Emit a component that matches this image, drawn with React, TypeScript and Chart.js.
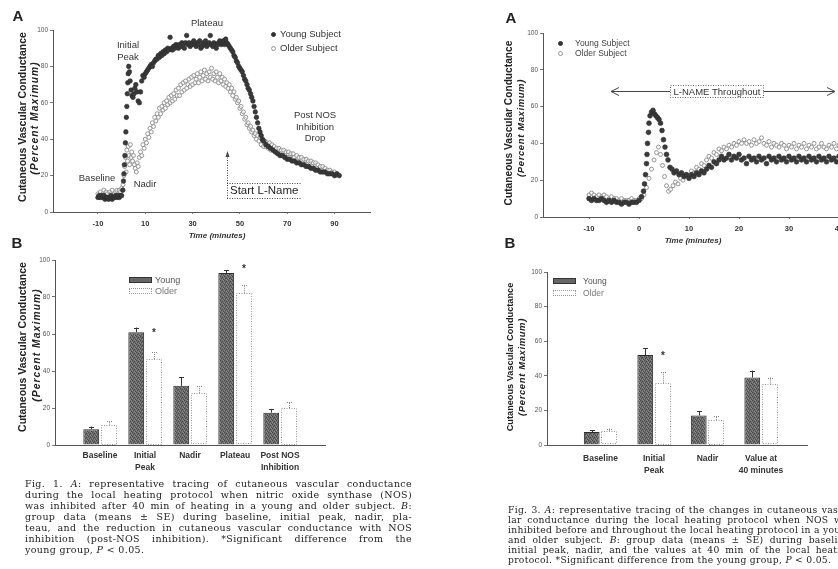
import React, { useEffect, useRef } from 'react';
import { Chart, registerables } from 'chart.js';

Chart.register(...registerables);

const SANS = '"Liberation Sans", Arial, sans-serif';
const SERIF = '"DejaVu Serif", serif';

// ---------------- DATA ----------------
const conductanceTicks = [0, 20, 40, 60, 80, 100];
const fig1ATicksX = [-10, 10, 30, 50, 70, 90];
const fig3ATicksX = [-10, 0, 10, 20, 30, 40];

// Fig 1A: [time (min), CVC (% max)]
const fig1AYoung: number[][] = [
  [-10, 8], [-9.5, 9], [-9, 8], [-8.5, 9], [-8, 8], [-7.5, 9], [-7, 7], [-6.5, 8], [-6, 8], [-5.5, 7], [-5, 8], [-4.5, 9], [-4, 7], [-3.5, 8], [-3, 8], [-2.5, 9], [-2, 8], [-1.5, 9], [-1, 8], [-0.5, 9], [0, 9],
  [0.5, 12], [0.8, 17], [1.0, 21], [1.2, 26], [1.4, 31], [1.6, 38], [1.8, 44], [2.0, 52], [2.2, 58], [2.4, 65], [2.6, 71], [2.8, 76], [3.0, 80], [3.3, 77], [3.6, 72], [4.0, 67], [4.4, 64], [4.8, 63], [5.2, 65], [5.6, 68], [6.0, 70], [6.5, 66], [7.0, 61], [7.5, 60], [8.0, 66], [8.5, 72], [9, 75], [9.5, 74],
  [10, 76], [10.5, 77], [11, 78], [11.5, 79], [12, 80], [12.5, 81], [13, 80], [13.5, 82], [14, 83], [14.5, 84], [15, 84], [15.5, 86], [16, 85], [16.5, 87], [17, 86], [17.5, 88], [18, 87], [18.5, 89], [19, 88], [19.5, 90], [20, 89], [20.5, 96], [21, 90], [21.5, 89], [22, 91], [22.5, 90], [23, 92], [23.5, 91], [24, 90], [24.5, 92], [25, 91], [25.5, 93], [26, 92], [26.5, 90], [27, 93], [27.5, 97], [28, 92], [28.5, 93], [29, 91], [29.5, 92], [30, 93], [30.5, 94], [31, 92], [31.5, 91], [32, 93], [32.5, 92], [33, 94], [33.5, 90], [34, 91], [34.5, 93], [35, 92], [35.5, 94], [36, 91], [36.5, 92], [37, 93], [37.5, 97], [38, 92], [38.5, 91], [39, 93], [39.5, 92], [40, 90], [40.5, 92], [41, 93], [41.5, 94], [42, 92], [42.5, 93], [43, 94], [43.5, 92], [44, 95], [44.5, 93], [45, 92],
  [45.5, 91], [46, 90], [46.5, 89], [47, 88], [47.5, 86], [48, 85], [48.5, 83], [49, 82], [49.5, 80], [50, 79], [50.5, 78], [51, 77], [51.5, 75], [52, 73], [52.5, 72], [53, 70], [53.5, 68], [54, 67], [54.5, 65], [55, 63], [55.5, 61], [56, 58], [56.5, 55], [57, 52], [57.5, 49], [58, 46], [58.5, 44], [59, 42], [59.5, 40], [60, 39], [61, 37], [62, 36], [63, 35], [64, 34], [65, 33], [66, 32], [67, 31], [68, 31], [69, 30], [70, 29], [71, 29], [72, 28], [73, 28], [74, 27], [75, 27], [76, 26], [77, 26], [78, 25], [79, 25], [80, 24], [81, 24], [82, 23], [83, 23], [84, 22], [85, 22], [86, 22], [87, 21], [88, 21], [89, 21], [90, 20], [91, 21], [92, 20],
];

const fig1AOlder: number[][] = [
  [-10, 10], [-9.5, 8], [-9, 11], [-8.5, 9], [-8, 10], [-7.5, 12], [-7, 9], [-6.5, 11], [-6, 10], [-5.5, 8], [-5, 11], [-4.5, 10], [-4, 12], [-3.5, 9], [-3, 10], [-2.5, 11], [-2, 12], [-1.5, 10], [-1, 12], [-0.5, 11], [0, 13],
  [0.6, 15], [1.0, 20], [1.3, 25], [1.6, 30], [1.9, 22], [2.2, 34], [2.5, 28], [2.8, 36], [3.1, 31], [3.4, 26], [3.7, 37], [4.0, 30], [4.3, 33], [4.6, 28], [5.0, 31], [5.4, 26], [5.8, 24], [6.2, 22], [6.6, 27], [7.0, 25], [7.5, 30], [8.0, 33], [8.5, 31], [9.0, 37], [9.5, 35],
  [10, 40], [10.5, 38], [11, 43], [11.5, 41], [12, 46], [12.5, 44], [13, 49], [13.5, 47], [14, 52], [14.5, 50], [15, 54], [15.5, 52], [16, 57], [16.5, 54], [17, 58], [17.5, 56], [18, 60], [18.5, 57], [19, 61], [19.5, 59], [20, 63], [20.5, 60], [21, 64], [21.5, 61], [22, 65], [22.5, 62], [23, 67], [23.5, 64], [24, 68], [24.5, 64], [25, 70], [25.5, 66], [26, 71], [26.5, 67], [27, 72], [27.5, 68], [28, 70], [28.5, 73], [29, 69], [29.5, 74], [30, 70], [30.5, 75], [31, 71], [31.5, 73], [32, 76], [32.5, 71], [33, 74], [33.5, 77], [34, 72], [34.5, 75], [35, 78], [35.5, 73], [36, 76], [36.5, 72], [37, 77], [37.5, 74], [38, 79], [38.5, 73], [39, 76], [39.5, 72], [40, 77], [40.5, 74], [41, 71], [41.5, 76], [42, 72], [42.5, 74], [43, 70], [43.5, 73], [44, 69], [44.5, 71], [45, 68],
  [45.5, 70], [46, 66], [46.5, 68], [47, 64], [47.5, 66], [48, 62], [48.5, 63], [49, 60], [49.5, 61], [50, 57], [50.5, 58], [51, 54], [51.5, 55], [52, 51], [52.5, 52], [53, 48], [53.5, 49], [54, 46], [54.5, 47], [55, 44], [55.5, 45], [56, 42], [56.5, 43], [57, 40], [57.5, 42], [58, 39], [58.5, 41], [59, 37], [59.5, 40], [60, 36], [60.5, 39], [61, 36], [61.5, 38], [62, 35], [62.5, 38], [63, 34], [63.5, 37], [64, 34], [64.5, 36], [65, 33], [65.5, 35], [66, 32], [66.5, 35], [67, 32], [67.5, 34], [68, 31], [68.5, 34], [69, 31], [69.5, 33], [70, 30], [70.5, 33], [71, 30], [71.5, 32], [72, 29], [72.5, 32], [73, 30], [73.5, 28], [74, 31], [74.5, 28], [75, 30], [75.5, 27], [76, 30], [76.5, 27], [77, 29], [77.5, 26], [78, 29], [78.5, 26], [79, 28], [79.5, 25], [80, 28], [80.5, 25], [81, 27], [81.5, 24], [82, 27], [82.5, 24], [83, 26], [83.5, 23], [84, 25], [84.5, 23], [85, 25], [85.5, 22], [86, 24], [86.5, 22], [87, 23], [87.5, 21], [88, 23], [88.5, 21], [89, 22], [89.5, 21], [90, 22], [90.5, 20], [91, 21],
];

// Fig 3A: [time (min), CVC (% max)]
const fig3AYoung: number[][] = [
  [-10, 10], [-9.5, 9], [-9, 10], [-8.5, 9], [-8, 9], [-7.5, 10], [-7, 9], [-6.5, 8], [-6, 9], [-5.5, 8], [-5, 9], [-4.5, 8], [-4, 8], [-3.5, 7], [-3, 8], [-2.5, 8], [-2, 7], [-1.5, 8], [-1, 8], [-0.5, 8], [0, 9],
  [0.5, 11], [0.9, 14], [1.1, 18], [1.3, 23], [1.5, 29], [1.6, 34], [1.7, 40], [1.9, 46], [2.0, 51], [2.2, 55], [2.5, 57], [2.8, 58], [3.1, 56], [3.4, 55], [3.7, 54], [4.0, 53], [4.3, 51], [4.6, 47], [4.9, 42], [5.2, 38], [5.5, 34], [5.8, 31], [6.2, 27], [6.6, 26], [7.0, 24], [7.5, 25], [8.0, 23], [8.5, 24], [9.0, 22], [9.5, 23],
  [10, 21], [10.5, 23], [11, 22], [11.5, 24], [12, 23], [12.5, 25], [13, 24], [13.5, 26], [14, 28], [14.5, 27], [15, 30], [15.5, 29], [16, 31], [16.5, 33], [17, 31], [17.5, 32], [18, 34], [18.5, 31], [19, 33], [19.5, 32], [20, 34], [20.5, 31], [21, 32], [21.5, 29], [22, 33], [22.5, 31], [23, 32], [23.5, 30], [24, 33], [24.5, 31], [25, 32], [25.5, 29], [26, 33], [26.5, 31], [27, 32], [27.5, 30], [28, 33], [28.5, 31], [29, 32], [29.5, 30], [30, 33], [30.5, 31], [31, 32], [31.5, 30], [32, 33], [32.5, 31], [33, 32], [33.5, 30], [34, 33], [34.5, 31], [35, 32], [35.5, 30], [36, 33], [36.5, 31], [37, 32], [37.5, 30], [38, 33], [38.5, 31], [39, 32], [39.5, 30], [40, 33], [40.5, 31], [41, 32],
];

const fig3AOlder: number[][] = [
  [-10, 12], [-9.5, 13], [-9, 12], [-8.5, 11], [-8, 12], [-7.5, 11], [-7, 12], [-6.5, 11], [-6, 10], [-5.5, 11], [-5, 10], [-4.5, 10], [-4, 9], [-3.5, 10], [-3, 9], [-2.5, 9], [-2, 9], [-1.5, 10], [-1, 9], [-0.5, 9], [0, 10],
  [0.5, 10], [1.0, 12], [1.5, 16], [2.0, 21], [2.5, 26], [3.0, 31], [3.5, 35], [3.9, 38], [4.3, 34], [4.7, 28], [5.1, 22], [5.5, 17], [5.9, 14], [6.3, 15], [6.8, 17], [7.3, 19], [7.8, 18], [8.3, 21], [8.8, 20], [9.3, 23], [9.8, 22],
  [10.5, 25], [11, 24], [11.5, 27], [12, 26], [12.5, 29], [13, 28], [13.5, 31], [14, 33], [14.5, 32], [15, 35], [15.5, 34], [16, 37], [16.5, 36], [17, 38], [17.5, 37], [18, 39], [18.5, 38], [19, 40], [19.5, 39], [20, 41], [20.5, 40], [21, 42], [21.5, 40], [22, 41], [22.5, 39], [23, 42], [23.5, 40], [24, 41], [24.5, 43], [25, 40], [25.5, 39], [26, 41], [26.5, 38], [27, 40], [27.5, 39], [28, 38], [28.5, 40], [29, 39], [29.5, 37], [30, 39], [30.5, 38], [31, 40], [31.5, 37], [32, 39], [32.5, 38], [33, 40], [33.5, 37], [34, 39], [34.5, 38], [35, 40], [35.5, 37], [36, 38], [36.5, 40], [37, 38], [37.5, 37], [38, 39], [38.5, 38], [39, 40], [39.5, 37], [40, 39], [40.5, 38], [41, 39],
];

// Fig 1B: group means and SE
const fig1BCategories: (string | string[])[] = ['Baseline', ['Initial', 'Peak'], 'Nadir', 'Plateau', ['Post NOS', 'Inhibition']];
const fig1BYoung = [8.5, 61, 32, 93, 17.5];
const fig1BYoungSE = [1.5, 2.5, 4.5, 1.5, 2];
const fig1BOlder = [11, 46.5, 28, 82, 20];
const fig1BOlderSE = [2, 4, 4, 4.5, 3];

// Fig 3B: group means and SE
const fig3BCategories: (string | string[])[] = ['Baseline', ['Initial', 'Peak'], 'Nadir', ['Value at', '40 minutes']];
const fig3BYoung = [7.5, 52, 17, 39];
const fig3BYoungSE = [1, 4, 2.5, 4];
const fig3BOlder = [8, 36, 14.5, 35];
const fig3BOlderSE = [1.5, 6, 2, 4];

// ---------------- CHART HELPERS ----------------
function yAxis(width: number) {
  return {
    type: 'linear',
    min: 0,
    max: 100,
    afterBuildTicks: (s: any) => { s.ticks = conductanceTicks.map((v) => ({ value: v })); },
    afterFit: (s: any) => { s.width = width; },
    grid: { drawOnChartArea: false, drawTicks: true, tickLength: 3, color: '#777' },
    border: { display: true, color: '#555', dash: [1, 1.5] },
    ticks: { font: { family: SANS, size: 6.5 }, color: '#555', padding: 2 },
  };
}

function scatterConfig(young: number[][], older: number[][], xMin: number, xMax: number, xTicks: number[], padding: any, yR: number, oR: number) {
  return {
    type: 'scatter',
    data: {
      datasets: [
        { label: 'Young Subject', data: young.map(([x, y]) => ({ x, y })), pointRadius: yR, pointBackgroundColor: '#3a3a3a', pointBorderColor: '#2a2a2a', pointBorderWidth: 0.6, order: 1 },
        { label: 'Older Subject', data: older.map(([x, y]) => ({ x, y })), pointRadius: oR, pointBackgroundColor: 'rgba(255,255,255,0.6)', pointBorderColor: '#949494', pointBorderWidth: 1, order: 2 },
      ],
    },
    options: {
      responsive: false,
      animation: false,
      events: [],
      layout: { padding },
      plugins: { legend: { display: false }, tooltip: { enabled: false } },
      scales: {
        x: {
          type: 'linear', min: xMin, max: xMax,
          afterBuildTicks: (s: any) => { s.ticks = xTicks.map((v) => ({ value: v })); },
          afterFit: (s: any) => { s.height = 25; },
          grid: { drawOnChartArea: false, drawTicks: true, tickLength: 2, color: '#888' },
          border: { display: true, color: '#555', dash: [1, 1.5] },
          ticks: { font: { family: SANS, size: 7.5, weight: 'bold' }, color: '#333', padding: 5, maxRotation: 0, autoSkip: false },
        },
        y: yAxis(30),
      },
    },
  };
}

const barDecor = {
  id: 'barDecor',
  afterDatasetsDraw(chart: any) {
    const ctx = chart.ctx;
    const ys = chart.scales.y;
    chart.data.datasets.forEach((ds: any, di: number) => {
      const meta = chart.getDatasetMeta(di);
      meta.data.forEach((el: any, i: number) => {
        const { x, y, base, width } = el.getProps(['x', 'y', 'base', 'width'], true);
        ctx.save();
        if (ds.dottedOutline) {
          ctx.strokeStyle = '#9a9a9a';
          ctx.lineWidth = 1;
          ctx.setLineDash([1, 1.5]);
          ctx.strokeRect(Math.round(x - width / 2) + 0.5, Math.round(y) + 0.5, Math.round(width) - 1, Math.round(base - y) - 1);
        }
        const yTop = ys.getPixelForValue(ds.data[i].y + ds.se[i]);
        ctx.setLineDash(ds.dottedOutline ? [1, 1] : []);
        ctx.strokeStyle = ds.dottedOutline ? '#888' : '#333';
        ctx.lineWidth = 1;
        const cx = Math.round(x) + 0.5;
        ctx.beginPath();
        ctx.moveTo(cx, y);
        ctx.lineTo(cx, yTop);
        ctx.moveTo(cx - 2.5, Math.round(yTop) + 0.5);
        ctx.lineTo(cx + 2.5, Math.round(yTop) + 0.5);
        ctx.stroke();
        ctx.restore();
      });
    });
  },
};

function barConfig(cats: (string | string[])[], young: number[], youngSE: number[], older: number[], olderSE: number[], xMax: number, catPct: number, padding: any, fill: any, tickPad: number) {
  return {
    type: 'bar',
    data: {
      datasets: [
        { label: 'Young', data: young.map((v, i) => ({ x: i + 1, y: v })), backgroundColor: fill, borderColor: '#2e2e2e', borderWidth: 1, categoryPercentage: catPct, barPercentage: 0.9, se: youngSE },
        { label: 'Older', data: older.map((v, i) => ({ x: i + 1, y: v })), backgroundColor: '#ffffff', borderWidth: 0, categoryPercentage: catPct, barPercentage: 0.9, se: olderSE, dottedOutline: true },
      ],
    },
    options: {
      responsive: false,
      animation: false,
      events: [],
      layout: { padding },
      plugins: { legend: { display: false }, tooltip: { enabled: false } },
      scales: {
        x: {
          type: 'linear', min: 0, max: xMax, offset: false,
          afterBuildTicks: (s: any) => { s.ticks = cats.map((_, i) => ({ value: i + 1 })); },
          afterFit: (s: any) => { s.height = 40; },
          grid: { display: false },
          border: { display: true, color: '#555', dash: [1, 1.5] },
          ticks: { callback: (v: number) => cats[Math.round(v) - 1], font: { family: SANS, size: 8.5, weight: 'bold', lineHeight: 1.35 }, color: '#333', padding: tickPad, maxRotation: 0, autoSkip: false },
        },
        y: yAxis(30),
      },
    },
    plugins: [barDecor],
  };
}

function makeStipple(ctx: CanvasRenderingContext2D) {
  const c = document.createElement('canvas');
  c.width = 4; c.height = 4;
  const g = c.getContext('2d')!;
  g.fillStyle = '#6c6c6c'; g.fillRect(0, 0, 4, 4);
  g.fillStyle = '#474747';
  g.fillRect(0, 0, 1, 1); g.fillRect(2, 1, 1, 1); g.fillRect(1, 2, 1, 1); g.fillRect(3, 3, 1, 1);
  g.fillStyle = '#8c8c8c';
  g.fillRect(2, 3, 1, 1); g.fillRect(0, 2, 1, 1); g.fillRect(3, 0, 1, 1);
  return ctx.createPattern(c, 'repeat');
}

// ---------------- OVERLAY TEXT ----------------
function Txt(p: { x: number; y: number; children: any; size?: number; bold?: boolean; italic?: boolean; color?: string; left?: boolean; rot?: number; ls?: number; family?: string }) {
  return (
    <div
      style={{
        position: 'absolute', left: p.x, top: p.y,
        transform: `translate(${p.left ? '0' : '-50%'}, -50%)${p.rot ? ` rotate(${p.rot}deg)` : ''}`,
        fontFamily: p.family ?? SANS, fontSize: p.size ?? 9, fontWeight: p.bold ? 700 : 400,
        fontStyle: p.italic ? 'italic' : 'normal', color: p.color ?? '#333', whiteSpace: 'nowrap',
        lineHeight: 1, letterSpacing: p.ls ?? 0,
      }}
    >
      {p.children}
    </div>
  );
}

const leftCaption: any[] = [
  <>Fig. 1. <i>A</i>: representative tracing of cutaneous vascular conductance</>,
  <>during the local heating protocol when nitric oxide synthase (NOS)</>,
  <>was inhibited after 40 min of heating in a young and older subject. <i>B</i>:</>,
  <>group data (means ± SE) during baseline, initial peak, nadir, pla-</>,
  <>teau, and the reduction in cutaneous vascular conductance with NOS</>,
  <>inhibition (post-NOS inhibition). *Significant difference from the</>,
  <>young group, <i>P</i> &lt; 0.05.</>,
];

const rightCaption: any[] = [
  <>Fig. 3. <i>A</i>: representative tracing of the changes in cutaneous vascu-</>,
  <>lar conductance during the local heating protocol when NOS was</>,
  <>inhibited before and throughout the local heating protocol in a young</>,
  <>and older subject. <i>B</i>: group data (means ± SE) during baseline,</>,
  <>initial peak, nadir, and the values at 40 min of the local heating</>,
  <>protocol. *Significant difference from the young group, <i>P</i> &lt; 0.05.</>,
];

function Caption({ x, y, width, size, lh, ls, lines }: { x: number; y: number; width: number; size: number; lh: number; ls: number; lines: any[] }) {
  return (
    <div style={{ position: 'absolute', left: x, top: y, width, fontFamily: SERIF, fontSize: size, color: '#222', letterSpacing: ls }}>
      {lines.map((l, i) => (
        <div key={i} style={{ height: lh, lineHeight: `${lh}px`, whiteSpace: 'nowrap', textAlign: i === lines.length - 1 ? 'left' : 'justify', textAlignLast: i === lines.length - 1 ? 'left' : 'justify' } as any}>
          {l}
        </div>
      ))}
    </div>
  );
}

export default function App() {
  const c1 = useRef<HTMLCanvasElement>(null);
  const c2 = useRef<HTMLCanvasElement>(null);
  const c3 = useRef<HTMLCanvasElement>(null);
  const c4 = useRef<HTMLCanvasElement>(null);

  useEffect(() => {
    const p2 = makeStipple(c2.current!.getContext('2d')!);
    const p4 = makeStipple(c4.current!.getContext('2d')!);
    const charts = [
      new Chart(c1.current!, scatterConfig(fig1AYoung, fig1AOlder, -29, 105, fig1ATicksX, { left: 23, top: 30, right: 50, bottom: 13 }, 2.3, 2) as any),
      new Chart(c2.current!, barConfig(fig1BCategories, fig1BYoung, fig1BYoungSE, fig1BOlder, fig1BOlderSE, 6, 0.78, { left: 25, top: 20, right: 95, bottom: 15 }, p2, -3) as any),
      new Chart(c3.current!, scatterConfig(fig3AYoung, fig3AOlder, -19.2, 42, fig3ATicksX, { left: 93, top: 33, right: 11, bottom: 8 }, 2.4, 2) as any),
      new Chart(c4.current!, barConfig(fig3BCategories, fig3BYoung, fig3BYoungSE, fig3BOlder, fig3BOlderSE, 4.86, 0.654, { left: 97, top: 32, right: 31, bottom: 15 }, p4, 0) as any),
    ];
    return () => charts.forEach((c) => c.destroy());
  }, []);

  const dot = (x: number, y: number, filled: boolean) => (
    <div style={{ position: 'absolute', left: x - 2.5, top: y - 2.5, width: 5, height: 5, borderRadius: '50%', boxSizing: 'border-box', background: filled ? '#333' : '#fff', border: filled ? '1px solid #333' : '1px solid #999' }} />
  );
  const swatch = (x: number, y: number, dark: boolean) => (
    <div style={{ position: 'absolute', left: x, top: y, width: 23, height: 6, boxSizing: 'border-box', background: dark ? '#666' : '#fff', border: dark ? '1px solid #333' : '1px dotted #999' }} />
  );

  return (
    <div style={{ position: 'fixed', left: 0, top: 0, width: 838, height: 569, overflow: 'hidden', background: '#fff' }}>
      <canvas ref={c1} width={420} height={250} style={{ position: 'absolute', left: 0, top: 0 }} />
      <canvas ref={c2} width={420} height={260} style={{ position: 'absolute', left: 0, top: 240 }} />
      <canvas ref={c3} width={440} height={250} style={{ position: 'absolute', left: 420, top: 0 }} />
      <canvas ref={c4} width={418} height={260} style={{ position: 'absolute', left: 420, top: 240 }} />

      <svg width={838} height={569} style={{ position: 'absolute', left: 0, top: 0, pointerEvents: 'none' }}>
        {/* Start L-Name marker */}
        <line x1={227.5} y1={155} x2={227.5} y2={198} stroke="#444" strokeDasharray="1 1.5" />
        <path d="M225.5 157 L227.5 151 L229.5 157 Z" fill="#444" />
        <line x1={227} y1={183.5} x2={302} y2={183.5} stroke="#444" strokeDasharray="1 1.5" />
        <line x1={227} y1={198.5} x2={302} y2={198.5} stroke="#444" strokeDasharray="1 1.5" />
        {/* L-NAME Throughout arrow */}
        <line x1={612} y1={91.5} x2={670} y2={91.5} stroke="#444" />
        <line x1={763} y1={91.5} x2={834} y2={91.5} stroke="#444" />
        <path d="M619 87.5 L611 91.5 L619 95.5" stroke="#444" fill="none" />
        <path d="M827 87.5 L835 91.5 L827 95.5" stroke="#444" fill="none" />
        <rect x={670.5} y={85.5} width={93} height={12} fill="#fff" stroke="#666" strokeDasharray="1 1.5" />
      </svg>

      {/* ---- Fig 1A ---- */}
      <Txt x={18} y={15} size={15} bold color="#222">A</Txt>
      <Txt x={22} y={117} size={10.5} bold rot={-90} color="#222">Cutaneous Vascular Conductance</Txt>
      <Txt x={35} y={118} size={10.3} bold italic rot={-90} ls={1.1} color="#222">(Percent Maximum)</Txt>
      <Txt x={128} y={45} size={9.5}>Initial</Txt>
      <Txt x={128} y={57} size={9.5}>Peak</Txt>
      <Txt x={207} y={23} size={9.5}>Plateau</Txt>
      <Txt x={97} y={178} size={9.5}>Baseline</Txt>
      <Txt x={145} y={184} size={9.5}>Nadir</Txt>
      <Txt x={315} y={115} size={9.5}>Post NOS</Txt>
      <Txt x={315} y={127} size={9.5}>Inhibition</Txt>
      <Txt x={315} y={138} size={9.5}>Drop</Txt>
      {dot(273, 34, true)}
      {dot(273, 48, false)}
      <Txt x={280} y={34} size={9.5} left>Young Subject</Txt>
      <Txt x={280} y={48} size={9.5} left>Older Subject</Txt>
      <Txt x={230} y={191} size={11.5} left color="#222">Start L-Name</Txt>
      <Txt x={217} y={236} size={8} bold italic>Time (minutes)</Txt>

      {/* ---- Fig 1B ---- */}
      <Txt x={17} y={242} size={15} bold color="#222">B</Txt>
      <Txt x={22} y={347} size={10.5} bold rot={-90} color="#222">Cutaneous Vascular Conductance</Txt>
      <Txt x={37} y={345} size={10.3} bold italic rot={-90} ls={1.1} color="#222">(Percent Maximum)</Txt>
      {swatch(129, 277, true)}
      {swatch(129, 288, false)}
      <Txt x={155} y={280} size={9} left color="#555">Young</Txt>
      <Txt x={155} y={291} size={9} left color="#777">Older</Txt>
      <Txt x={154} y={333} size={10} bold>*</Txt>
      <Txt x={244} y={269} size={10} bold>*</Txt>

      {/* ---- Fig 3A ---- */}
      <Txt x={511} y={17} size={15} bold color="#222">A</Txt>
      <Txt x={509} y={123} size={10.2} bold rot={-90} color="#222">Cutaneous Vascular Conductance</Txt>
      <Txt x={521} y={128} size={9.5} bold italic rot={-90} ls={0.6} color="#222">(Percent Maximum)</Txt>
      {dot(560, 43, true)}
      {dot(560, 53, false)}
      <Txt x={575} y={43} size={8.5} left color="#444">Young Subject</Txt>
      <Txt x={575} y={53} size={8.5} left color="#444">Older Subject</Txt>
      <Txt x={717} y={92} size={9.5} color="#333">L-NAME Throughout</Txt>
      <Txt x={693} y={241} size={8} bold italic>Time (minutes)</Txt>

      {/* ---- Fig 3B ---- */}
      <Txt x={510} y={242} size={15} bold color="#222">B</Txt>
      <Txt x={511} y={357} size={9.2} bold rot={-90} color="#222">Cutaneous Vascular Conductance</Txt>
      <Txt x={522} y={367} size={9.5} bold italic rot={-90} ls={0.6} color="#222">(Percent Maximum)</Txt>
      {swatch(553, 278, true)}
      {swatch(553, 290, false)}
      <Txt x={583} y={281} size={8.5} left color="#555">Young</Txt>
      <Txt x={583} y={293} size={8.5} left color="#777">Older</Txt>
      <Txt x={663} y={356} size={10} bold>*</Txt>

      <Caption x={25} y={478} width={387} size={9.5} lh={11} ls={0.35} lines={leftCaption} />
      <Caption x={508} y={505} width={345} size={9.2} lh={10} ls={0.3} lines={rightCaption} />
    </div>
  );
}
